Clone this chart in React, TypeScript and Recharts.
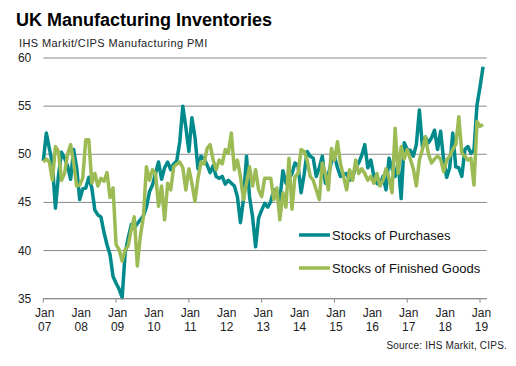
import React from "react";
import {
  CartesianGrid,
  Legend,
  Line,
  LineChart,
  XAxis,
  YAxis,
} from "recharts";

// monthly readings, Jan 2007 - Feb 2019
const stocksOfPurchases = [
  49.3, 52.2, 50.6, 49.0, 44.4, 47.8, 50.2, 49.6, 48.8, 47.4, 50.5, 48.6, // 2007
  45.3, 46.4, 46.5, 47.6, 46.5, 44.2, 43.7, 43.5, 41.9, 40.6, 39.6, 37.3, // 2008
  36.6, 36.0, 35.1, 39.8, 41.3, 42.7, 42.3, 42.8, 43.2, 43.6, 44.5, 46.1, // 2009
  46.8, 48.0, 49.2, 47.4, 48.6, 49.2, 48.4, 49.0, 49.3, 51.3, 55.0, 52.8, // 2010
  50.3, 53.8, 51.8, 48.5, 49.8, 49.5, 48.9, 48.1, 48.8, 47.7, 47.5, 47.7, // 2011
  46.9, 47.3, 47.0, 46.7, 45.6, 42.9, 45.3, 49.8, 45.6, 43.5, 40.4, 43.4, // 2012
  44.2, 44.9, 44.5, 45.1, 46.3, 45.6, 45.3, 48.3, 47.0, 47.4, 48.0, 49.1, // 2013
  48.8, 46.0, 47.9, 50.3, 49.8, 49.6, 47.7, 48.6, 49.8, 47.0, 47.9, 49.2, // 2014
  49.8, 48.6, 47.7, 47.9, 48.0, 47.3, 47.6, 48.7, 49.1, 49.9, 51.0, 48.6, // 2015
  49.4, 47.7, 47.0, 46.8, 47.7, 46.3, 49.6, 48.5, 47.7, 49.1, 45.4, 51.2, // 2016
  50.5, 50.4, 49.8, 51.0, 54.6, 50.8, 51.8, 51.2, 51.7, 52.5, 50.5, 52.4, // 2017
  49.4, 47.6, 48.6, 52.2, 48.7, 48.6, 47.7, 50.5, 50.8, 50.1, 50.4, 55.1, // 2018
  57.0, 59.1, // 2019
];

const stocksOfFinishedGoods = [
  49.2, 49.5, 49.2, 47.3, 50.8, 50.3, 47.3, 48.0, 50.0, 51.0, 49.1, 46.7, // 2007
  46.8, 47.5, 51.5, 51.5, 47.0, 48.0, 46.7, 47.5, 47.2, 48.1, 45.5, 46.5, // 2008
  40.6, 40.1, 38.9, 40.1, 40.5, 42.2, 43.5, 38.4, 41.5, 43.5, 48.7, 47.3, // 2009
  48.4, 48.0, 44.6, 46.7, 43.2, 47.0, 46.3, 48.7, 49.0, 49.2, 48.6, 46.3, // 2010
  48.5, 47.0, 45.1, 47.5, 49.2, 49.0, 50.6, 51.0, 49.4, 48.4, 49.4, 49.0, // 2011
  50.5, 50.1, 52.2, 48.4, 49.4, 47.7, 45.3, 47.0, 48.7, 46.7, 48.4, 46.3, // 2012
  45.6, 47.5, 47.5, 47.5, 45.3, 46.5, 43.2, 46.0, 44.5, 49.6, 44.3, 47.7, // 2013
  48.0, 50.5, 50.3, 49.4, 47.7, 47.3, 46.3, 45.3, 49.1, 48.0, 46.3, 50.6, // 2014
  49.4, 51.3, 49.0, 47.7, 46.3, 48.4, 47.3, 49.4, 48.0, 48.5, 48.0, 47.3, // 2015
  47.7, 47.0, 48.0, 46.7, 47.3, 48.5, 47.5, 46.0, 52.7, 48.0, 50.8, 49.5, // 2016
  50.5, 49.5, 48.5, 46.7, 49.4, 50.5, 51.8, 50.0, 49.1, 49.5, 49.8, 49.5, // 2017
  48.2, 49.4, 49.8, 50.5, 51.0, 53.9, 50.1, 49.8, 49.4, 49.6, 46.8, 53.4, // 2018
  52.9, 53.1, // 2019
];

const yearLabels = ["07", "08", "09", "10", "11", "12", "13", "14", "15", "16", "17", "18", "19"];
const yTicks = [35, 40, 45, 50, 55, 60];

const TEAL = "#008a8b";
const GREEN = "#9dbb55";
const GRID = "#8a8a8a";
const FONT = "'Liberation Sans', Arial, sans-serif";

const data = stocksOfPurchases.map((v, i) => ({
  month: i,
  purchases: v,
  finished: stocksOfFinishedGoods[i],
}));

const xTicks = yearLabels.map((_, i) => i * 12);

const XTick = (props: any) => {
  const { x, y, payload } = props;
  const idx = Math.round(payload.value / 12);
  return (
    <g>
      {idx % 2 === 0 && (
        <line x1={x} x2={x} y1={y} y2={y + 4} stroke={GRID} strokeWidth={1} />
      )}
      <text x={x + 1.5} y={y + 18} textAnchor="middle" fontSize={12} fill="#222" fontFamily={FONT}>
        Jan
      </text>
      <text x={x + 1.5} y={y + 32} textAnchor="middle" fontSize={12} fill="#222" fontFamily={FONT}>
        {yearLabels[idx]}
      </text>
    </g>
  );
};

const YTick = (props: any) => {
  const { x, y, payload } = props;
  return (
    <text x={x - 12} y={y + 4} textAnchor="end" fontSize={12} fill="#222" fontFamily={FONT}>
      {payload.value}
    </text>
  );
};

const legendItems = [
  { label: "Stocks of Purchases", color: TEAL },
  { label: "Stocks of Finished Goods", color: GREEN },
];

const renderLegend = () => (
  <div style={{ fontFamily: FONT, fontSize: 13, color: "#111" }}>
    {legendItems.map((item) => (
      <div
        key={item.label}
        style={{ display: "flex", alignItems: "center", height: 18, marginBottom: 15 }}
      >
        <svg width={31} height={6} style={{ marginRight: 2 }}>
          <line x1={0} x2={31} y1={3} y2={3} stroke={item.color} strokeWidth={3.5} />
        </svg>
        <span>{item.label}</span>
      </div>
    ))}
  </div>
);

export default function App() {
  return (
    <div
      style={{
        position: "absolute",
        left: 0,
        top: 0,
        width: 516,
        height: 366,
        background: "#fff",
        fontFamily: FONT,
      }}
    >
      <LineChart
        width={516}
        height={366}
        data={data}
        margin={{ top: 58, right: 29.3, bottom: 0, left: 0 }}
      >
        <CartesianGrid vertical={false} stroke={GRID} strokeWidth={1} />
        <XAxis
          dataKey="month"
          type="number"
          domain={[0, 146.2]}
          ticks={xTicks}
          tick={<XTick />}
          tickSize={0}
          tickMargin={0}
          tickLine={false}
          axisLine={{ stroke: GRID }}
          height={67.3}
          interval={0}
        />
        <YAxis
          domain={[35, 60]}
          ticks={yTicks}
          tick={<YTick />}
          tickSize={0}
          tickMargin={0}
          tickLine={false}
          axisLine={false}
          width={43.3}
          interval={0}
        />
        <Legend
          layout="vertical"
          align="center"
          verticalAlign="middle"
          content={renderLegend}
          wrapperStyle={{ left: 299, top: 226, width: 210 }}
        />
        <Line
          type="linear"
          dataKey="purchases"
          name="Stocks of Purchases"
          stroke={TEAL}
          strokeWidth={3.5}
          strokeLinejoin="round"
          dot={false}
          isAnimationActive={false}
        />
        <Line
          type="linear"
          dataKey="finished"
          name="Stocks of Finished Goods"
          stroke={GREEN}
          strokeWidth={3.5}
          strokeLinejoin="round"
          dot={false}
          isAnimationActive={false}
        />
      </LineChart>
      <svg
        width={516}
        height={366}
        style={{ position: "absolute", left: 0, top: 0, pointerEvents: "none" }}
      >
        <text x={16} y={26} fontSize={18} fontWeight="bold" fill="#000" fontFamily={FONT}>
          UK Manufacturing Inventories
        </text>
        <text x={19} y={46.5} fontSize={11} letterSpacing={0.4} fill="#222" fontFamily={FONT}>
          IHS Markit/CIPS Manufacturing PMI
        </text>
        <text x={507} y={349} fontSize={10} letterSpacing={0.2} textAnchor="end" fill="#222" fontFamily={FONT}>
          Source: IHS Markit, CIPS.
        </text>
      </svg>
    </div>
  );
}
